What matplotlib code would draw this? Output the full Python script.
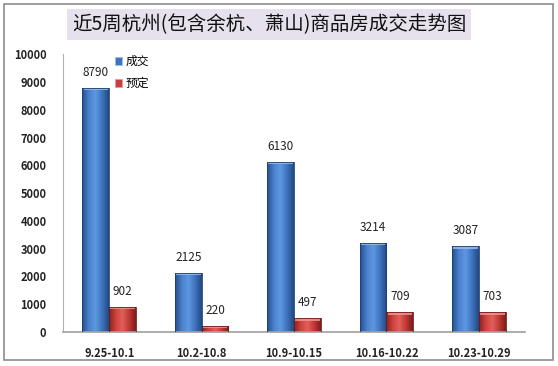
import numpy as np
import matplotlib.pyplot as plt
from matplotlib.colors import LinearSegmentedColormap
from matplotlib.patches import Patch, Rectangle

plt.rcParams['font.family'] = ['Noto Sans CJK SC', 'DejaVu Sans']

weeks = ["9.25-10.1", "10.2-10.8", "10.9-10.15", "10.16-10.22", "10.23-10.29"]
deals = [8790, 2125, 6130, 3214, 3087]
booked = [902, 220, 497, 709, 703]
series_names = ["成交", "预定"]
yticks = np.arange(0, 10001, 1000)

blue_shade = LinearSegmentedColormap.from_list(
    "blue", ["#24508c", "#4a80cc", "#5f98e2", "#3f73bd", "#214a82"])
red_shade = LinearSegmentedColormap.from_list(
    "red", ["#8a2220", "#cf423e", "#e2605b", "#c03834", "#7c1e1c"])


def shaded_bars(ax, xs, values, width, cmap, top_color, edge):
    """Draw bars with a horizontal gradient to look like Excel cylinders."""
    grad = np.linspace(0, 1, 64).reshape(1, -1)
    bars = ax.bar(xs, values, width, color="none", edgecolor="none", zorder=2)
    for bar in bars:
        x0 = bar.get_x()
        h = bar.get_height()
        img = ax.imshow(grad, cmap=cmap, aspect="auto",
                        extent=(x0, x0 + width, 0, h), zorder=2)
        img.set_clip_path(bar)
        cap = min(90, h * 0.3)
        ax.add_patch(Rectangle((x0 + width * 0.04, h - cap), width * 0.92, cap,
                               color=top_color, lw=0, zorder=3, alpha=0.8))
        ax.add_patch(Rectangle((x0, 0), width, h, fill=False,
                               edgecolor=edge, lw=0.6, zorder=4))
    return bars


fig = plt.figure(figsize=(5.58, 3.66), dpi=100)
ax = fig.add_axes([0.113, 0.093, 0.828, 0.759])

x = np.arange(len(weeks))
w = 0.29
shaded_bars(ax, x - w / 2, deals, w, blue_shade, "#9cc0f0", "#1d3f70")
shaded_bars(ax, x + w / 2, booked, w, red_shade, "#f09a96", "#6e1a18")

for xi, v in zip(x - w / 2, deals):
    ax.text(xi, v + 330, str(v), ha="center", va="bottom", fontsize=8.5, color="#222222")
for xi, v in zip(x + w / 2, booked):
    ax.text(xi, v + 330, str(v), ha="center", va="bottom", fontsize=8.5, color="#222222")

ax.set_xlim(-0.5, len(weeks) - 0.5)
ax.set_ylim(0, 10000)
ax.set_yticks(yticks)
ax.set_yticklabels([str(t) for t in yticks], fontsize=8, fontweight="bold", color="#222222")
ax.set_xticks(x)
ax.set_xticklabels(weeks, fontsize=8, fontweight="bold", color="#222222")
ax.tick_params(axis="y", length=0, pad=12)
ax.tick_params(axis="x", length=0, pad=11)
for side in ["top", "right"]:
    ax.spines[side].set_visible(False)
ax.spines["left"].set_color("#b0b0b0")
ax.spines["bottom"].set_color("#a0a0a0")
ax.spines["bottom"].set_linewidth(1.2)

handles = [Patch(facecolor="#3f73bd", edgecolor="#9cc0f0", lw=0.6),
           Patch(facecolor="#c8403d", edgecolor="#f09a96", lw=0.6)]
ax.legend(handles, series_names, loc="upper left", bbox_to_anchor=(0.09, 1.035),
          frameon=False, fontsize=8.5, handlelength=0.6, handleheight=0.6,
          handletextpad=0.3, labelspacing=0.75)

fig.text(0.482, 0.933, "近5周杭州(包含余杭、萧山)商品房成交走势图", ha="center", va="center",
         fontsize=14, color="#111111",
         bbox=dict(facecolor="#e6e1ed", edgecolor="none", pad=3.5))

fig.patches.append(Rectangle((4 / 558, 1 - 360 / 366), 549 / 558, 356 / 366,
                             transform=fig.transFigure, fill=False,
                             edgecolor="#8c8c8c", lw=1.2))

fig.savefig("out.png", dpi=100)
